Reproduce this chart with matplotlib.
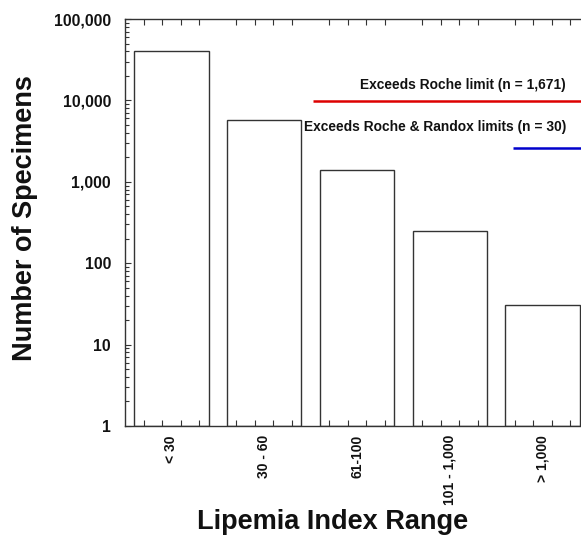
import numpy as np
import matplotlib
matplotlib.use("Agg")
import matplotlib.pyplot as plt
from matplotlib.ticker import FixedLocator, FuncFormatter, LogLocator, NullFormatter

plt.rcParams['font.family'] = ['Liberation Sans', 'DejaVu Sans']
plt.rcParams['font.weight'] = 'bold'

# data
ranges = ['< 30', '30 - 60', '61-100', '101 - 1,000', '> 1,000']
counts = [41000, 5800, 1396, 245, 30]

# annotation brackets (x start in category units, level in counts)
roche_start, roche_level = 1.53, 9700
randox_start, randox_level = 3.68, 2630
roche_label = 'Exceeds Roche limit (n = 1,671)'
randox_label = 'Exceeds Roche & Randox limits (n = 30)'

fig = plt.figure(figsize=(5.81, 5.36), dpi=100)
# axes runs a bit past the right edge, like the cropped original
ax = fig.add_axes([125/581, 110/536, 464/581, 407/536])

x = np.arange(len(ranges))
ax.bar(x, counts, width=0.8, bottom=1, color='white', edgecolor='#333333', linewidth=1.0)

ax.set_yscale('log')
ax.set_ylim(1, 100000)
ax.set_xlim(-0.5, len(ranges) - 0.5)

# red and blue limit lines
ax.plot([roche_start, len(ranges)], [roche_level, roche_level], color='#dd0000', lw=1.8, solid_capstyle='butt')
ax.plot([randox_start, len(ranges)], [randox_level, randox_level], color='#0000cc', lw=1.8, solid_capstyle='butt')
ax.text(4.25, 15600, roche_label, ha='right', va='center', fontsize=9.9, fontweight='bold', color='#111111')
ax.text(4.26, 4760, randox_label, ha='right', va='center', fontsize=9.9, fontweight='bold', color='#111111')

# y axis
ax.yaxis.set_major_locator(LogLocator(base=10, numticks=10))
ax.yaxis.set_minor_locator(LogLocator(base=10, subs=np.arange(2, 10), numticks=10))
ax.yaxis.set_minor_formatter(NullFormatter())
ax.yaxis.set_major_formatter(FuncFormatter(lambda v, p: f'{int(round(v)):,}'))
ax.tick_params(axis='y', which='major', direction='in', length=4, width=0.8, pad=10,
               labelsize=11.3, colors='#333333', labelcolor='#111111')
ax.tick_params(axis='y', which='minor', direction='in', length=3, width=0.8, colors='#333333')

# x axis: labels at centers, minor ticks every fifth of a category, top and bottom
ax.set_xticks(x)
ax.set_xticklabels(ranges, rotation=90, fontsize=10, fontweight='bold', va='top', ha='center')
minor = [i - 0.5 + k * 0.2 for i in range(len(ranges)) for k in range(1, 5)]
ax.xaxis.set_minor_locator(FixedLocator(minor))
ax.tick_params(axis='x', which='major', length=0, pad=6.5, labelcolor='#111111')
ax.tick_params(axis='x', which='minor', direction='in', length=4, width=0.8,
               top=True, bottom=True, colors='#333333')

for s in ax.spines.values():
    s.set_color('#333333')
    s.set_linewidth(1.0)

for lab in ax.get_yticklabels():
    lab.set_fontweight('bold')

fig.text(25/581, 1 - 218/536, 'Number of Specimens', rotation=90, ha='center', va='center',
         fontsize=19.5, fontweight='bold', color='#111111')
fig.text(333/581, 1 - 522/536, 'Lipemia Index Range', ha='center', va='center',
         fontsize=19.5, fontweight='bold', color='#111111')

fig.savefig('out.png', dpi=100)
